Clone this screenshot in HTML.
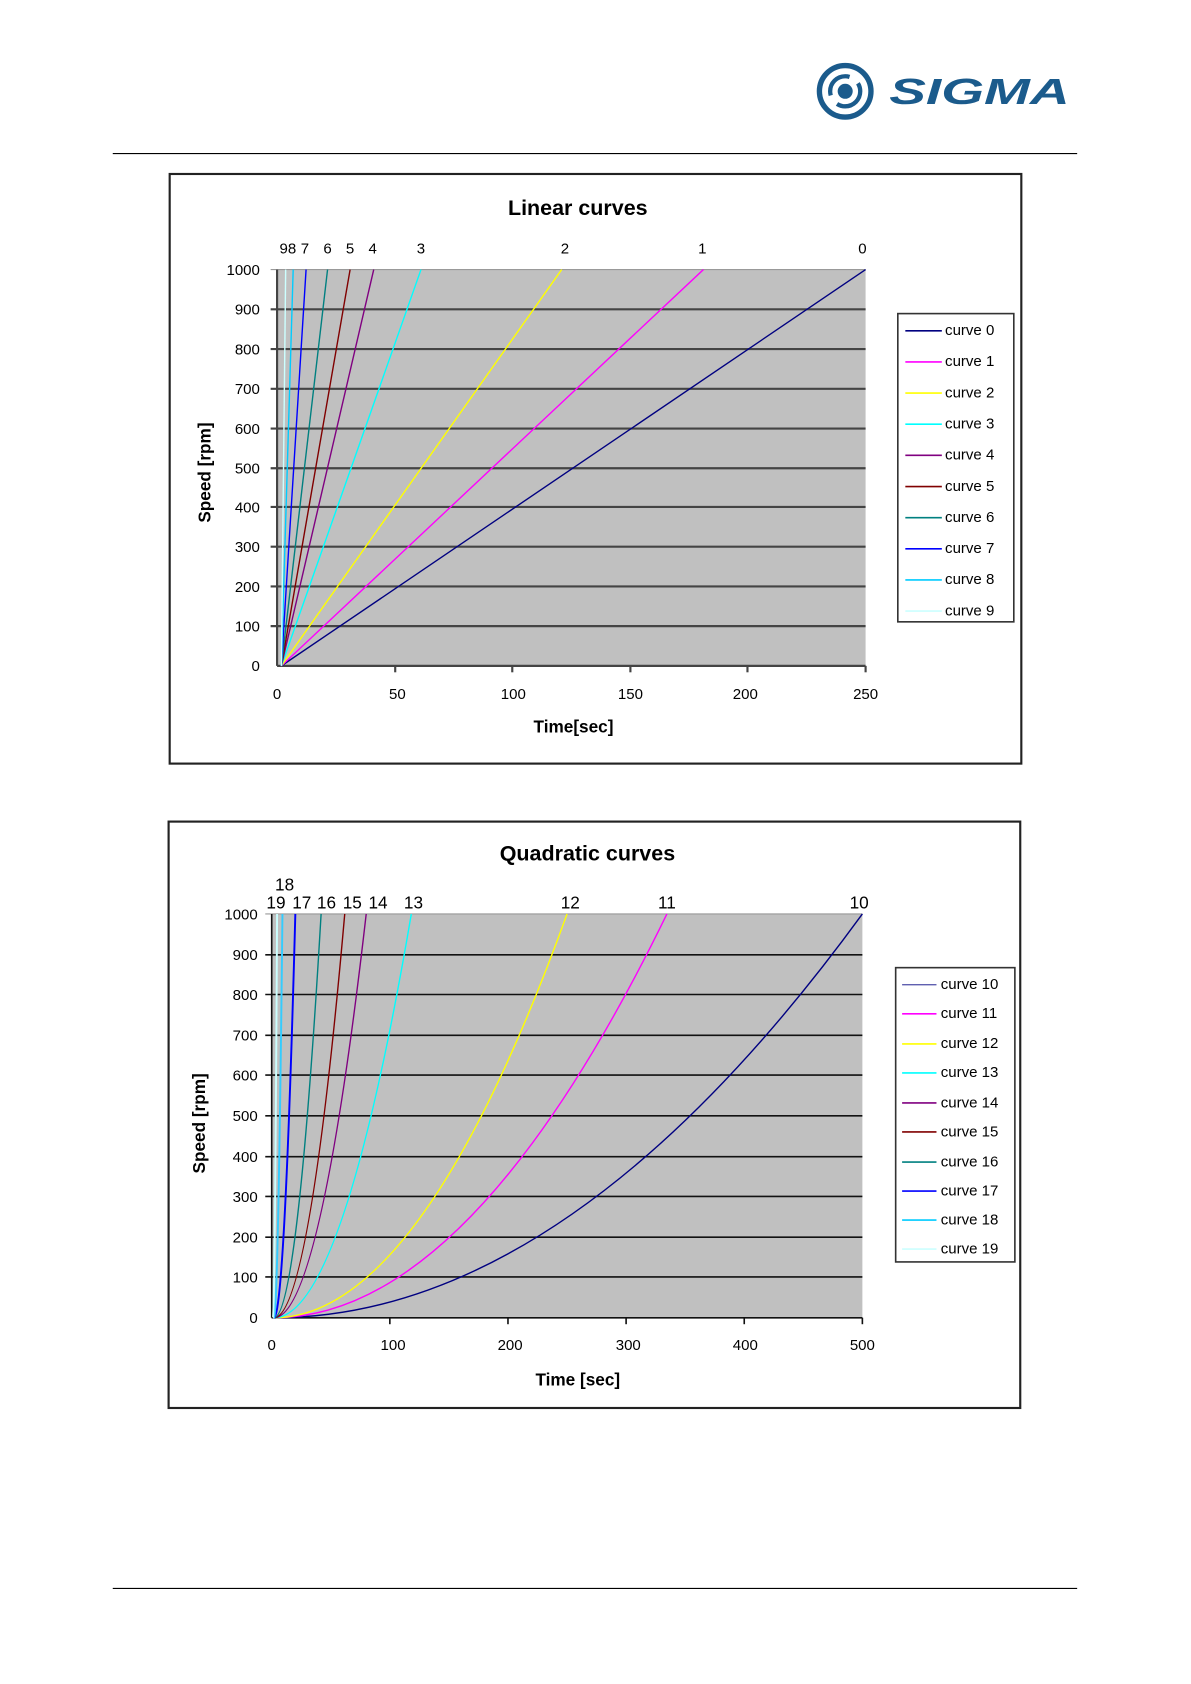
<!DOCTYPE html>
<html><head><meta charset="utf-8"><style>html,body{margin:0;padding:0;background:#fff}svg{display:block}text{font-family:"Liberation Sans",sans-serif}</style></head>
<body>
<svg width="1191" height="1684" viewBox="0 0 1109 1568" preserveAspectRatio="none" xmlns="http://www.w3.org/2000/svg">
<!-- logo -->
<circle cx="787" cy="85" r="24" fill="none" stroke="#1b5b8c" stroke-width="5"/>
<circle cx="787" cy="85" r="14" fill="none" stroke="#1b5b8c" stroke-width="4" stroke-dasharray="30 10"/>
<circle cx="787" cy="85" r="7" fill="#1b5b8c"/>
<text x="828" y="97" font-size="34" font-weight="bold" font-style="italic" fill="#1b5b8c" textLength="168" lengthAdjust="spacingAndGlyphs">SIGMA</text>
<line x1="105" y1="143" x2="1003" y2="143" stroke="#000" stroke-width="1"/>
<line x1="105" y1="1479" x2="1003" y2="1479" stroke="#000" stroke-width="1"/>

<!-- Linear chart -->
<rect x="158" y="162" width="793" height="549" fill="#fff" stroke="#222" stroke-width="2"/>
<text x="538" y="200" font-size="20" font-weight="bold" text-anchor="middle">Linear curves</text>
<rect x="258" y="251" width="548" height="369" fill="#c0c0c0"/>
<g stroke="#444" stroke-width="2">
<line x1="252" y1="251" x2="806" y2="251" stroke="#999" stroke-width="1"/>
<line x1="252" y1="288" x2="806" y2="288"/><line x1="252" y1="325" x2="806" y2="325"/>
<line x1="252" y1="362" x2="806" y2="362"/><line x1="252" y1="399" x2="806" y2="399"/>
<line x1="252" y1="436" x2="806" y2="436"/><line x1="252" y1="472" x2="806" y2="472"/>
<line x1="252" y1="509" x2="806" y2="509"/><line x1="252" y1="546" x2="806" y2="546"/>
<line x1="252" y1="583" x2="806" y2="583"/>
<line x1="258" y1="251" x2="258" y2="620"/>
<line x1="258" y1="620" x2="806" y2="620"/>
<line x1="368" y1="620" x2="368" y2="626"/><line x1="477" y1="620" x2="477" y2="626"/>
<line x1="587" y1="620" x2="587" y2="626"/><line x1="696" y1="620" x2="696" y2="626"/><line x1="806" y1="620" x2="806" y2="626"/>
</g>
<g font-size="14" text-anchor="end">
<text x="242" y="256">1000</text><text x="242" y="293">900</text><text x="242" y="330">800</text><text x="242" y="367">700</text><text x="242" y="404">600</text><text x="242" y="441">500</text><text x="242" y="477">400</text><text x="242" y="514">300</text><text x="242" y="551">200</text><text x="242" y="588">100</text><text x="242" y="625">0</text>
</g>
<g font-size="14" text-anchor="middle">
<text x="258" y="651">0</text><text x="370" y="651">50</text><text x="478" y="651">100</text><text x="587" y="651">150</text><text x="694" y="651">200</text><text x="806" y="651">250</text>
<text x="803" y="236">0</text><text x="654" y="236">1</text><text x="526" y="236">2</text><text x="392" y="236">3</text><text x="347" y="236">4</text><text x="326" y="236">5</text><text x="305" y="236">6</text><text x="284" y="236">7</text><text x="268" y="236">98</text>
</g>
<text x="534" y="682" font-size="16" font-weight="bold" text-anchor="middle">Time[sec]</text>
<text transform="translate(196,440) rotate(-90)" font-size="16" font-weight="bold" text-anchor="middle">Speed [rpm]</text>
<g fill="none" stroke-width="1.3">
<line x1="262" y1="620" x2="806" y2="251" stroke="#000080"/>
<line x1="262" y1="620" x2="655" y2="251" stroke="#ff00ff"/>
<line x1="262" y1="620" x2="523" y2="251" stroke="#ffff00"/>
<line x1="262" y1="620" x2="392" y2="251" stroke="#00ffff"/>
<line x1="262" y1="620" x2="348" y2="251" stroke="#800080"/>
<line x1="262" y1="620" x2="326" y2="251" stroke="#800000"/>
<line x1="262" y1="620" x2="305" y2="251" stroke="#008080"/>
<line x1="262" y1="620" x2="285" y2="251" stroke="#0000ff"/>
<line x1="262" y1="620" x2="273" y2="251" stroke="#00ccff"/>
<line x1="262" y1="620" x2="266" y2="251" stroke="#ccffff"/>
</g>
<rect x="836" y="292" width="108" height="287" fill="#fff" stroke="#333" stroke-width="1.5"/>
<g font-size="14" stroke-width="1.5">
<line x1="843" y1="308" x2="877" y2="308" stroke="#000080"/><text x="880" y="312">curve 0</text>
<line x1="843" y1="337" x2="877" y2="337" stroke="#ff00ff"/><text x="880" y="341">curve 1</text>
<line x1="843" y1="366" x2="877" y2="366" stroke="#ffff00"/><text x="880" y="370">curve 2</text>
<line x1="843" y1="395" x2="877" y2="395" stroke="#00ffff"/><text x="880" y="399">curve 3</text>
<line x1="843" y1="424" x2="877" y2="424" stroke="#800080"/><text x="880" y="428">curve 4</text>
<line x1="843" y1="453" x2="877" y2="453" stroke="#800000"/><text x="880" y="457">curve 5</text>
<line x1="843" y1="482" x2="877" y2="482" stroke="#008080"/><text x="880" y="486">curve 6</text>
<line x1="843" y1="511" x2="877" y2="511" stroke="#0000ff"/><text x="880" y="515">curve 7</text>
<line x1="843" y1="540" x2="877" y2="540" stroke="#00ccff"/><text x="880" y="544">curve 8</text>
<line x1="843" y1="569" x2="877" y2="569" stroke="#ccffff"/><text x="880" y="573">curve 9</text>
</g>

<!-- Quadratic chart -->
<rect x="157" y="765" width="793" height="546" fill="#fff" stroke="#222" stroke-width="2"/>
<text x="547" y="801" font-size="20" font-weight="bold" text-anchor="middle">Quadratic curves</text>
<rect x="253" y="851" width="550" height="376" fill="#c0c0c0"/>
<g stroke="#111" stroke-width="1.5">
<line x1="247" y1="851" x2="803" y2="851" stroke="#999" stroke-width="1"/>
<line x1="247" y1="889" x2="803" y2="889"/><line x1="247" y1="926" x2="803" y2="926"/>
<line x1="247" y1="964" x2="803" y2="964"/><line x1="247" y1="1001" x2="803" y2="1001"/>
<line x1="247" y1="1039" x2="803" y2="1039"/><line x1="247" y1="1077" x2="803" y2="1077"/>
<line x1="247" y1="1114" x2="803" y2="1114"/><line x1="247" y1="1152" x2="803" y2="1152"/>
<line x1="247" y1="1189" x2="803" y2="1189"/>
<line x1="253" y1="851" x2="253" y2="1227"/>
<line x1="253" y1="1227" x2="803" y2="1227"/>
<line x1="363" y1="1227" x2="363" y2="1233"/><line x1="473" y1="1227" x2="473" y2="1233"/>
<line x1="583" y1="1227" x2="583" y2="1233"/><line x1="693" y1="1227" x2="693" y2="1233"/><line x1="803" y1="1227" x2="803" y2="1233"/>
</g>
<g font-size="14" text-anchor="end">
<text x="240" y="856">1000</text><text x="240" y="894">900</text><text x="240" y="931">800</text><text x="240" y="969">700</text><text x="240" y="1006">600</text><text x="240" y="1044">500</text><text x="240" y="1082">400</text><text x="240" y="1119">300</text><text x="240" y="1157">200</text><text x="240" y="1194">100</text><text x="240" y="1232">0</text>
</g>
<g font-size="14" text-anchor="middle">
<text x="253" y="1257">0</text><text x="366" y="1257">100</text><text x="475" y="1257">200</text><text x="585" y="1257">300</text><text x="694" y="1257">400</text><text x="803" y="1257">500</text>
</g>
<g font-size="16" text-anchor="middle">
<text x="800" y="846">10</text><text x="621" y="846">11</text><text x="531" y="846">12</text><text x="385" y="846">13</text><text x="352" y="846">14</text><text x="328" y="846">15</text><text x="304" y="846">16</text><text x="281" y="846">17</text><text x="257" y="846">19</text><text x="265" y="829">18</text>
</g>
<text x="538" y="1290" font-size="16" font-weight="bold" text-anchor="middle">Time [sec]</text>
<text transform="translate(191,1046) rotate(-90)" font-size="16" font-weight="bold" text-anchor="middle">Speed [rpm]</text>
<g fill="none" stroke-width="1.3">
<path d="M255 1227 Q529 1227 803 851" stroke="#000080"/>
<path d="M255 1227 Q438 1227 621 851" stroke="#ff00ff"/>
<path d="M255 1227 Q392 1227 528 851" stroke="#ffff00"/>
<path d="M255 1227 Q319 1227 383 851" stroke="#00ffff"/>
<path d="M255 1227 Q298 1227 341 851" stroke="#800080"/>
<path d="M255 1227 Q288 1227 321 851" stroke="#800000"/>
<path d="M255 1227 Q277 1227 299 851" stroke="#008080"/>
<path d="M255 1227 Q265 1227 275 851" stroke="#0000ff" stroke-width="1.8"/>
<path d="M255 1227 Q259 1227 263 851" stroke="#33ccff" stroke-width="1.8"/>
<path d="M254 1227 Q256 1227 258 851" stroke="#ccffff" stroke-width="1.8"/>
</g>
<rect x="834" y="901" width="111" height="274" fill="#fff" stroke="#333" stroke-width="1.5"/>
<g font-size="14" stroke-width="1.5">
<line x1="840" y1="917" x2="872" y2="917" stroke="#000080" stroke-width="0.8"/><text x="876" y="921">curve 10</text>
<line x1="840" y1="944" x2="872" y2="944" stroke="#ff00ff"/><text x="876" y="948">curve 11</text>
<line x1="840" y1="972" x2="872" y2="972" stroke="#ffff00"/><text x="876" y="976">curve 12</text>
<line x1="840" y1="999" x2="872" y2="999" stroke="#00ffff"/><text x="876" y="1003">curve 13</text>
<line x1="840" y1="1027" x2="872" y2="1027" stroke="#800080"/><text x="876" y="1031">curve 14</text>
<line x1="840" y1="1054" x2="872" y2="1054" stroke="#800000"/><text x="876" y="1058">curve 15</text>
<line x1="840" y1="1082" x2="872" y2="1082" stroke="#008080"/><text x="876" y="1086">curve 16</text>
<line x1="840" y1="1109" x2="872" y2="1109" stroke="#0000ff"/><text x="876" y="1113">curve 17</text>
<line x1="840" y1="1136" x2="872" y2="1136" stroke="#00ccff"/><text x="876" y="1140">curve 18</text>
<line x1="840" y1="1163" x2="872" y2="1163" stroke="#ccffff"/><text x="876" y="1167">curve 19</text>
</g>
</svg>
</body></html>
